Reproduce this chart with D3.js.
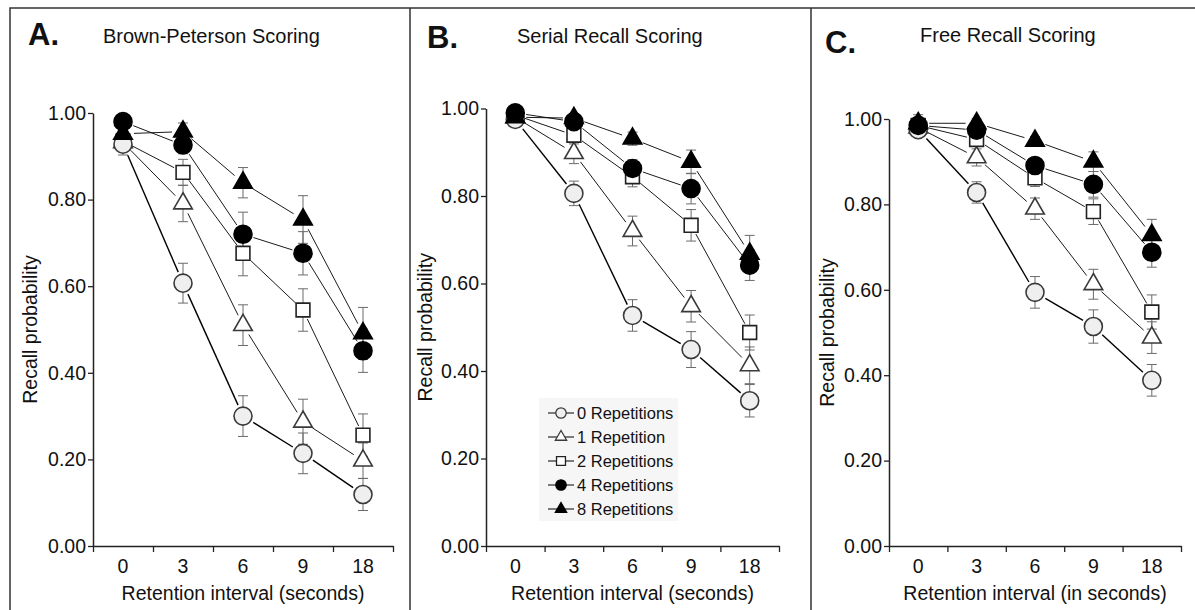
<!DOCTYPE html>
<html>
<head>
<meta charset="utf-8">
<script src="https://cdn.jsdelivr.net/npm/d3@7"></script>
<style>
  body { margin: 0; background: #fff; }
  svg text { font-family: "Liberation Sans", Arial, sans-serif; fill: #111; }
</style>
</head>
<body>
<div class="chart"></div>
<script>
// ---- data ----
var intervals = ["0", "3", "6", "9", "18"];
var seriesNames = ["0 Repetitions", "1 Repetition", "2 Repetitions", "4 Repetitions", "8 Repetitions"];
var yTicks = [0, 0.2, 0.4, 0.6, 0.8, 1.0];

// A. Brown-Peterson scoring (rows: 0, 1, 2, 4, 8 repetitions)
var bpMeans = [
    [0.928, 0.607, 0.300, 0.214, 0.119],
    [0.932, 0.791, 0.510, 0.287, 0.197],
    [0.935, 0.863, 0.676, 0.545, 0.256],
    [0.980, 0.926, 0.720, 0.676, 0.451],
    [0.952, 0.957, 0.839, 0.754, 0.491]
];
var bpErr = [
    [0.025, 0.046, 0.047, 0.047, 0.037],
    [0.020, 0.042, 0.047, 0.052, 0.041],
    [0.020, 0.030, 0.052, 0.049, 0.049],
    [0.015, 0.020, 0.051, 0.050, 0.050],
    [0.015, 0.020, 0.035, 0.055, 0.060]
];

// B. Serial recall scoring
var serialMeans = [
    [0.975, 0.806, 0.527, 0.449, 0.332],
    [0.980, 0.898, 0.720, 0.548, 0.413],
    [0.985, 0.939, 0.844, 0.733, 0.488],
    [0.990, 0.970, 0.863, 0.817, 0.642],
    [0.980, 0.978, 0.931, 0.878, 0.668]
];
var serialErr = [
    [0.010, 0.028, 0.036, 0.041, 0.037],
    [0.010, 0.024, 0.034, 0.036, 0.042],
    [0.010, 0.020, 0.023, 0.036, 0.040],
    [0.010, 0.015, 0.020, 0.035, 0.035],
    [0.010, 0.010, 0.015, 0.027, 0.042]
];

// C. Free recall scoring
var freeMeans = [
    [0.975, 0.828, 0.594, 0.514, 0.388],
    [0.980, 0.910, 0.790, 0.613, 0.488],
    [0.985, 0.952, 0.862, 0.783, 0.548],
    [0.985, 0.974, 0.891, 0.847, 0.688],
    [0.990, 0.990, 0.949, 0.900, 0.728]
];
var freeErr = [
    [0.010, 0.025, 0.037, 0.039, 0.037],
    [0.010, 0.020, 0.025, 0.035, 0.037],
    [0.010, 0.015, 0.020, 0.030, 0.040],
    [0.010, 0.010, 0.015, 0.030, 0.035],
    [0.020, 0.010, 0.010, 0.023, 0.037]
];

// ---- styling per series ----
var markerStyle = [
    {type: d3.symbolCircle,   size: 255, lsize: 85, fill: "#efefef", stroke: "#3a3a3a", gap: 12, lw: 1.4},
    {type: d3.symbolTriangle, size: 150, lsize: 55, fill: "#fff",    stroke: "#3a3a3a", gap: 11, lw: 0.9},
    {type: d3.symbolSquare,   size: 190, lsize: 80, fill: "#fff",    stroke: "#222",    gap: 10, lw: 0.9},
    {type: d3.symbolCircle,   size: 255, lsize: 85, fill: "#000",    stroke: "#000",    gap: 11, lw: 0.9},
    {type: d3.symbolTriangle, size: 150, lsize: 55, fill: "#000",    stroke: "#000",    gap: 11, lw: 0.9}
];
// stacking of markers: open symbols at the back, then 0 reps, then filled ones
var drawOrder = [1, 2, 0, 3, 4];

var svgWidth = 1195;
var svgHeight = 610;

var svg = d3.select(".chart")
    .append("svg")
    .attr("width", svgWidth)
    .attr("height", svgHeight);

// panel frame
svg.append("path")
    .attr("d", "M10,610 V8 H1195 M410,8 V610 M811,8 V610")
    .attr("fill", "none")
    .attr("stroke", "#333")
    .attr("stroke-width", 1.5);

var panels = [
    {letter: "A.", title: "Brown-Peterson Scoring", means: bpMeans, err: bpErr,
     x0: 93, x1: 393, yTop: 113, letterX: 28, letterY: 45, titleX: 103, titleY: 43,
     yLabelX: 37, xLabel: "Retention interval (seconds)"},
    {letter: "B.", title: "Serial Recall Scoring", means: serialMeans, err: serialErr,
     x0: 486, x1: 779, yTop: 108.5, letterX: 427, letterY: 48, titleX: 517, titleY: 43,
     yLabelX: 432, xLabel: "Retention interval (seconds)", legend: true},
    {letter: "C.", title: "Free Recall Scoring", means: freeMeans, err: freeErr,
     x0: 889, x1: 1181, yTop: 119, letterX: 825, letterY: 53, titleX: 920, titleY: 42,
     yLabelX: 834, xLabel: "Retention interval (in seconds)"}
];

var yBottom = 546;

panels.forEach(function(p) {
    var g = svg.append("g");

    var xScale = d3.scaleBand().domain(intervals).range([p.x0, p.x1]);
    var xEdges = d3.scaleLinear().domain([0, intervals.length]).range([p.x0, p.x1]);
    var yScale = d3.scaleLinear().domain([0, 1]).range([yBottom, p.yTop]);

    // titles
    g.append("text")
        .attr("x", p.letterX).attr("y", p.letterY)
        .style("font-size", "31px").style("font-weight", "bold")
        .text(p.letter);
    g.append("text")
        .attr("x", p.titleX).attr("y", p.titleY)
        .style("font-size", "20px")
        .text(p.title);

    // y axis
    var yAxis = g.append("g")
        .attr("transform", `translate(${p.x0},0)`)
        .call(d3.axisLeft(yScale).tickValues(yTicks).tickFormat(d3.format(".2f"))
            .tickSize(5).tickSizeOuter(0).tickPadding(2));

    // x axis: tick marks at band edges, labels at band centres
    var xAxisTicks = g.append("g")
        .attr("transform", `translate(0,${yBottom})`)
        .call(d3.axisBottom(xEdges).ticks(intervals.length).tickFormat("")
            .tickSize(6).tickSizeOuter(0));
    var xAxisLabels = g.append("g")
        .attr("transform", `translate(0,${yBottom})`)
        .call(d3.axisBottom(xScale).tickSize(0).tickPadding(13.5));
    xAxisLabels.select(".domain").remove();

    [yAxis, xAxisTicks].forEach(function(ax) {
        ax.select(".domain").attr("stroke", "#222").attr("stroke-width", 1.5);
        ax.selectAll(".tick line").attr("stroke", "#222").attr("stroke-width", 1.3);
    });
    g.selectAll(".tick text")
        .style("font-size", "19.5px")
        .attr("fill", "#111")
        .style("font-family", "'Liberation Sans', Arial, sans-serif");

    // axis titles
    g.append("text")
        .attr("transform", `translate(${p.yLabelX},${(yBottom + p.yTop) / 2}) rotate(-90)`)
        .attr("text-anchor", "middle")
        .style("font-size", "19.5px")
        .text("Recall probability");
    g.append("text")
        .attr("x", (p.x0 + p.x1) / 2).attr("y", 600)
        .attr("text-anchor", "middle")
        .style("font-size", "19.5px")
        .text(p.xLabel);

    var cx = d => xScale(d.x) + xScale.bandwidth() / 2;

    var series = p.means.map(function(vals, si) {
        return vals.map(function(v, i) {
            return {x: intervals[i], y: v, e: p.err[si][i], s: si};
        });
    });

    // error bars
    series.forEach(function(pts) {
        var eb = g.append("g").selectAll("g")
            .data(pts).enter().append("g")
            .attr("stroke", "#6b6b6b").attr("stroke-width", 1);
        eb.append("line")
            .attr("x1", cx).attr("x2", cx)
            .attr("y1", d => yScale(d.y - d.e)).attr("y2", d => yScale(d.y + d.e));
        eb.append("line")
            .attr("x1", d => cx(d) - 5).attr("x2", d => cx(d) + 5)
            .attr("y1", d => yScale(d.y + d.e)).attr("y2", d => yScale(d.y + d.e));
        eb.append("line")
            .attr("x1", d => cx(d) - 5).attr("x2", d => cx(d) + 5)
            .attr("y1", d => yScale(d.y - d.e)).attr("y2", d => yScale(d.y - d.e));
    });

    // connecting lines, stopping short of the markers
    series.forEach(function(pts, si) {
        var st = markerStyle[si];
        var segs = d3.pairs(pts);
        g.append("g").selectAll("line")
            .data(segs).enter().append("line")
            .each(function(s) {
                var ax = cx(s[0]), ay = yScale(s[0].y);
                var bx = cx(s[1]), by = yScale(s[1].y);
                var len = Math.hypot(bx - ax, by - ay);
                var ux = (bx - ax) / len, uy = (by - ay) / len;
                d3.select(this)
                    .attr("x1", ax + ux * st.gap).attr("y1", ay + uy * st.gap)
                    .attr("x2", bx - ux * st.gap).attr("y2", by - uy * st.gap);
            })
            .attr("stroke", "#000")
            .attr("stroke-width", st.lw);
    });

    // markers
    drawOrder.forEach(function(si) {
        var st = markerStyle[si];
        g.append("g").selectAll("path")
            .data(series[si]).enter().append("path")
            .attr("transform", d => `translate(${cx(d)},${yScale(d.y)})`)
            .attr("d", d3.symbol().type(st.type).size(st.size))
            .attr("fill", st.fill)
            .attr("stroke", st.stroke)
            .attr("stroke-width", 1.6);
    });

    // legend
    if (p.legend) {
        var lg = g.append("g");
        lg.append("rect")
            .attr("x", 539).attr("y", 398)
            .attr("width", 139).attr("height", 123)
            .attr("fill", "#f6f6f6");
        var rowY = d3.scalePoint().domain(seriesNames).range([413, 509]);
        seriesNames.forEach(function(name, si) {
            var st = markerStyle[si];
            var ry = rowY(name);
            lg.append("line")
                .attr("x1", 548).attr("x2", 574)
                .attr("y1", ry).attr("y2", ry)
                .attr("stroke", "#000").attr("stroke-width", 1);
            lg.append("path")
                .attr("transform", `translate(561,${ry})`)
                .attr("d", d3.symbol().type(st.type).size(st.lsize))
                .attr("fill", st.fill)
                .attr("stroke", st.stroke)
                .attr("stroke-width", 1.3);
            lg.append("text")
                .attr("x", 577).attr("y", ry)
                .attr("dy", "0.36em")
                .style("font-size", "16.5px")
                .text(name);
        });
    }
});
</script>
</body>
</html>
